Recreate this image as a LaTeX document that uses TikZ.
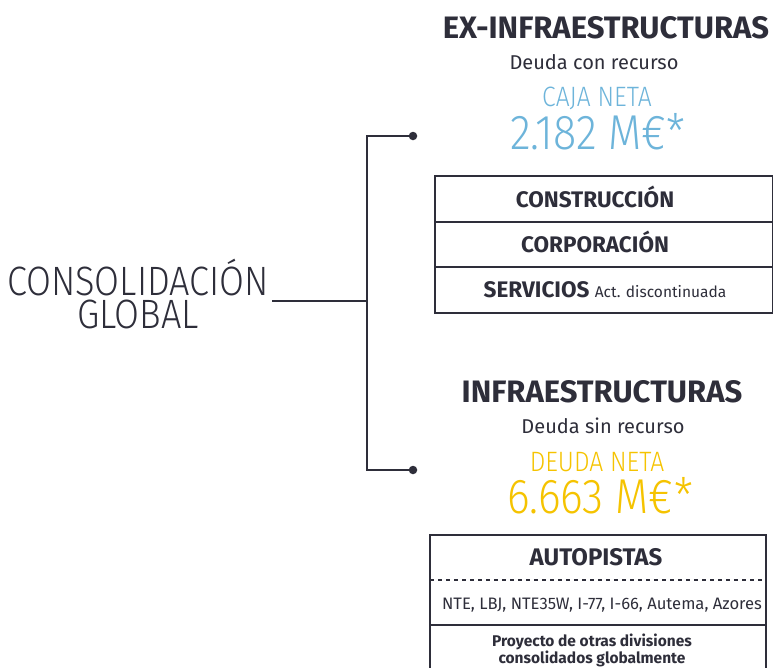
\documentclass[tikz,border=0pt]{standalone}
\usepackage{fontspec}
\setmainfont{Fira Sans}
\newfontfamily\lightfont{Fira Sans}[UprightFont = {* Light}, FakeStretch = 0.88]
\usetikzlibrary{positioning}

\definecolor{ink}{HTML}{2E2E3A}
\definecolor{cajablue}{HTML}{6DB4DA}
\definecolor{deudayellow}{HTML}{F5C300}

\begin{document}
\begin{tikzpicture}[
    x = 1pt, y = -1pt,
    ink, line width = 1.3pt,
    heading/.style = {font = \bfseries\fontsize{31}{34}\selectfont},
    subheading/.style = {font = \fontsize{20}{24}\selectfont},
    figlabel/.style = {font = \lightfont\fontsize{28}{32}\selectfont},
    figvalue/.style = {font = \lightfont\fontsize{49}{54}\selectfont},
    rowbox/.style = {draw, line width = 2pt,
      minimum width = 338pt, minimum height = 45.5pt,
      inner sep = 0pt, anchor = north west},
    rowtext/.style = {font = \bfseries\fontsize{22.5}{26}\selectfont},
    junction/.style = {circle, fill, inner sep = 0pt,
      minimum size = 8.5pt}
    ]

    \useasboundingbox (0, 0) rectangle (773, 667);

    \node at (138, 294) [align = center,
      font = \lightfont\fontsize{41}{33.5}\selectfont, name = cons]
      {CONSOLIDACIÓN\\GLOBAL};

    \coordinate (j) at (367, 301);
    \node at (413, 136) [junction, name = dotex] {};
    \node at (413, 470) [junction, name = dotin] {};

    \draw (272, 301) coordinate (consend) -- (j);
    \draw (dotex.center) -| (j) |- (dotin.center);

    % ex-infraestructuras
    \node at (606, 28) [heading, name = exhead] {EX-INFRAESTRUCTURAS};
    \node at (594, 62) [subheading, name = exsub] {Deuda con recurso};
    \node at (597, 98) [figlabel, cajablue, name = exlabel] {CAJA NETA};
    \node at (598, 132) [figvalue, cajablue, name = exvalue] {2.182 M€*};

    \node at (434, 175) [rowbox, name = constr] {};
    \node at (434, 220.5) [rowbox, name = corp] {};
    \node at (434, 266) [rowbox, name = serv] {};
    \node at (595, 197) [rowtext, name = constrtext] {CONSTRUCCIÓN};
    \node at (595, 242) [rowtext, name = corptext] {CORPORACIÓN};
    \node at (605, 290) [rowtext, name = servtext]
      {SERVICIOS\ {\mdseries\fontsize{15.5}{18}\selectfont Act. discontinuada}};

    % infraestructuras
    \node at (602, 392) [heading, name = inhead] {INFRAESTRUCTURAS};
    \node at (603, 426) [subheading, name = insub] {Deuda sin recurso};
    \node at (597, 462) [figlabel, deudayellow, name = inlabel] {DEUDA NETA};
    \node at (600, 496) [figvalue, deudayellow, name = invalue] {6.663 M€*};

    \draw [line width = 2pt] (430, 700) -- (430, 535) -- (766, 535) -- (766, 700);
    \draw [line width = 2pt, dash pattern = on 4pt off 4pt] (430, 580) -- (766, 580);
    \draw [line width = 2pt] (430, 625) -- (766, 625);
    \node at (596, 557) [rowtext, font = \bfseries\fontsize{24}{28}\selectfont,
      name = autop] {AUTOPISTAS};
    \node at (602, 605) [font = \fontsize{16.6}{19}\selectfont, name = nte]
      {NTE, LBJ, NTE35W, I-77, I-66, Autema, Azores};
    \node at (592, 650) [align = center,
      font = \bfseries\fontsize{15.5}{16}\selectfont, name = proy]
      {Proyecto de otras divisiones\\consolidados globalmente};
  \end{tikzpicture}
\end{document}
